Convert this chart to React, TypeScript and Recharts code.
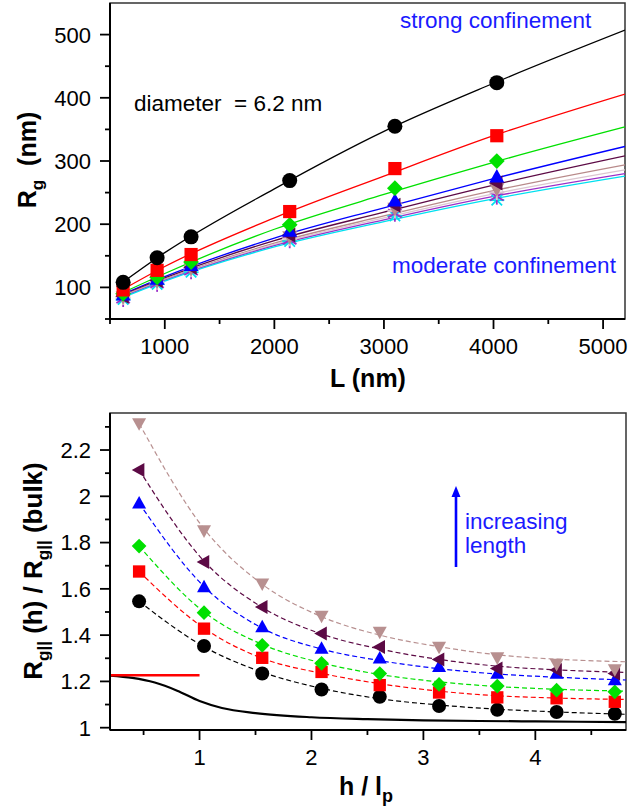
import React from 'react'
import { ComposedChart, Scatter, Line, XAxis, YAxis, ReferenceArea } from 'recharts'

// ---- top panel: Rg vs contour length L ----
const lengthNm = [620, 930, 1240, 2140, 3100, 4030]
const fitLengthNm = [560, 1000, 2000, 3000, 4000, 5200]

const rgBlack = [108, 147, 180, 269, 355, 424]
const rgRed = [96, 127, 152, 220, 288, 340]
const rgGreen = [90, 116, 140, 199, 257, 300]
const rgBlue = [88, 113, 135, 189, 237, 275]
const rgMaroon = [86, 111, 132, 183, 230, 265]
const rgRosy = [85, 110, 130, 180, 225, 256]
const rgLight = [84, 108, 128, 177, 221, 250]
const rgPurple = [82, 106, 126, 175, 217, 244]
const rgCyan = [81, 105, 124, 173, 213, 238]

const fitBlack = [101, 155, 256, 347, 423, 507]
const fitRed = [91, 133, 210, 276, 340, 406]
const fitGreen = [87, 122, 192, 247, 298, 354]
const fitBlue = [85, 117, 178, 226, 272, 323]
const fitMaroon = [84, 115, 174, 219, 262, 308]
const fitRosy = [83, 113, 170, 213, 253, 294]
const fitLight = [82, 112, 168, 210, 248, 286]
const fitPurple = [81, 111, 166, 207, 244, 280]
const fitCyan = [80, 110, 164, 204, 240, 276]

const lengthTicks = [500, 1000, 1500, 2000, 2500, 3000, 3500, 4000, 4500, 5000]
const rgTicks = [50, 100, 150, 200, 250, 300, 350, 400, 450, 500]

// ---- bottom panel: Rg|| ratio vs h / lp ----
const hOverLp = [0.46, 1.04, 1.56, 2.09, 2.61, 3.14, 3.66, 4.19, 4.71]
const ratioBlack = [1.546, 1.353, 1.234, 1.165, 1.134, 1.094, 1.077, 1.068, 1.06]
const ratioRed = [1.675, 1.428, 1.302, 1.241, 1.184, 1.152, 1.131, 1.127, 1.112]
const ratioGreen = [1.785, 1.497, 1.356, 1.278, 1.234, 1.187, 1.18, 1.162, 1.155]
const ratioBlue = [1.97, 1.608, 1.435, 1.342, 1.3, 1.263, 1.234, 1.234, 1.206]
const ratioMaroon = [2.114, 1.716, 1.522, 1.407, 1.349, 1.295, 1.256, 1.249, 1.234]
const ratioRosy = [2.315, 1.852, 1.622, 1.483, 1.414, 1.349, 1.303, 1.275, 1.252]

const hFit = [0.46, 1.04, 1.56, 2.09, 2.61, 3.14, 3.66, 4.19, 4.81]
const fitRatioBlack = [1.546, 1.35, 1.24, 1.17, 1.125, 1.098, 1.08, 1.068, 1.058]
const fitRatioRed = [1.675, 1.43, 1.3, 1.235, 1.19, 1.158, 1.138, 1.128, 1.122]
const fitRatioGreen = [1.785, 1.5, 1.36, 1.28, 1.23, 1.198, 1.178, 1.166, 1.158]
const fitRatioBlue = [1.97, 1.61, 1.43, 1.34, 1.29, 1.255, 1.232, 1.218, 1.206]
const fitRatioMaroon = [2.114, 1.72, 1.52, 1.405, 1.34, 1.295, 1.266, 1.25, 1.239]
const fitRatioRosy = [2.315, 1.86, 1.62, 1.48, 1.4, 1.35, 1.315, 1.296, 1.285]

const bulkH = [0.2, 0.4, 0.6, 0.8, 1.0, 1.2, 1.5, 2.0, 2.5, 3.0, 3.5, 4.0, 4.81]
const bulkRatio = [1.225, 1.215, 1.195, 1.16, 1.115, 1.085, 1.063, 1.045, 1.037, 1.032, 1.029, 1.027, 1.024]
const limitH = [0.2, 1.0]
const limitRatio = [1.227, 1.227]

const hTicks = [0.5, 1, 1.5, 2, 2.5, 3, 3.5, 4, 4.5]
const ratioTicks = [1, 1.1, 1.2, 1.3, 1.4, 1.5, 1.6, 1.7, 1.8, 1.9, 2, 2.1, 2.2, 2.3]

const FONT = '"Liberation Sans", Arial, sans-serif'
const BLUE_TEXT = '#1a1aff'

const toXY = (xs: number[], ys: number[]) => xs.map((x, i) => ({ x, y: ys[i] }))

type Kind = 'circle' | 'square' | 'diamond' | 'up' | 'left' | 'down' | 'plus' | 'star' | 'asterisk'

function Marker({ cx, cy, kind, color, s }: { cx: number; cy: number; kind: Kind; color: string; s: number }) {
  if (cx == null || cy == null) return null
  const h = s / 2
  switch (kind) {
    case 'circle':
      return <circle cx={cx} cy={cy} r={h} fill={color} />
    case 'square':
      return <rect x={cx - h * 0.88} y={cy - h * 0.88} width={h * 1.76} height={h * 1.76} fill={color} />
    case 'diamond':
      return <polygon points={`${cx},${cy - h * 1.05} ${cx + h * 1.05},${cy} ${cx},${cy + h * 1.05} ${cx - h * 1.05},${cy}`} fill={color} />
    case 'up':
      return <polygon points={`${cx},${cy - h * 1.05} ${cx + h},${cy + h * 0.75} ${cx - h},${cy + h * 0.75}`} fill={color} />
    case 'down':
      return <polygon points={`${cx},${cy + h * 1.05} ${cx + h},${cy - h * 0.75} ${cx - h},${cy - h * 0.75}`} fill={color} />
    case 'left':
      return <polygon points={`${cx - h * 1.05},${cy} ${cx + h * 0.75},${cy - h} ${cx + h * 0.75},${cy + h}`} fill={color} />
    case 'plus':
      return (
        <g stroke={color} strokeWidth={2}>
          <line x1={cx - h} x2={cx + h} y1={cy} y2={cy} />
          <line x1={cx} x2={cx} y1={cy - h} y2={cy + h} />
        </g>
      )
    case 'star':
      return (
        <g stroke={color} strokeWidth={1.8}>
          <line x1={cx} x2={cx} y1={cy - h * 1.1} y2={cy + h * 1.1} />
          <line x1={cx - h * 0.9} x2={cx + h * 0.9} y1={cy - h * 0.55} y2={cy + h * 0.55} />
          <line x1={cx - h * 0.9} x2={cx + h * 0.9} y1={cy + h * 0.55} y2={cy - h * 0.55} />
        </g>
      )
    default:
      return (
        <g stroke={color} strokeWidth={1.8}>
          <line x1={cx - h} x2={cx + h} y1={cy} y2={cy} />
          <line x1={cx - h * 0.7} x2={cx + h * 0.7} y1={cy - h * 0.7} y2={cy + h * 0.7} />
          <line x1={cx - h * 0.7} x2={cx + h * 0.7} y1={cy + h * 0.7} y2={cy - h * 0.7} />
        </g>
      )
  }
}

const topSeries: { color: string; kind: Kind; pts: number[]; fit: number[] }[] = [
  { color: '#000000', kind: 'circle', pts: rgBlack, fit: fitBlack },
  { color: '#ff0000', kind: 'square', pts: rgRed, fit: fitRed },
  { color: '#00e000', kind: 'diamond', pts: rgGreen, fit: fitGreen },
  { color: '#0000ff', kind: 'up', pts: rgBlue, fit: fitBlue },
  { color: '#5c0a45', kind: 'left', pts: rgMaroon, fit: fitMaroon },
  { color: '#b88a8a', kind: 'down', pts: rgRosy, fit: fitRosy },
  { color: '#dcc6d0', kind: 'plus', pts: rgLight, fit: fitLight },
  { color: '#9b30c8', kind: 'star', pts: rgPurple, fit: fitPurple },
  { color: '#00e0f0', kind: 'asterisk', pts: rgCyan, fit: fitCyan },
]

const bottomSeries: { color: string; kind: Kind; pts: number[]; fit: number[] }[] = [
  { color: '#000000', kind: 'circle', pts: ratioBlack, fit: fitRatioBlack },
  { color: '#ff0000', kind: 'square', pts: ratioRed, fit: fitRatioRed },
  { color: '#00e000', kind: 'diamond', pts: ratioGreen, fit: fitRatioGreen },
  { color: '#0000ff', kind: 'up', pts: ratioBlue, fit: fitRatioBlue },
  { color: '#5c0a45', kind: 'left', pts: ratioMaroon, fit: fitRatioMaroon },
  { color: '#b89090', kind: 'down', pts: ratioRosy, fit: fitRatioRosy },
]

// custom ticks: axis tickSize/tickMargin are 0 so x,y sit on the axis line
const makeYTick = (isMajor: (v: number) => boolean, fmt: (v: number) => string) => (p: any) => {
  const v = p.payload.value
  const major = isMajor(v)
  return (
    <g>
      <line x1={p.x} x2={p.x - (major ? 10 : 5)} y1={p.y} y2={p.y} stroke="#000" strokeWidth={1.8} />
      {major && (
        <text x={p.x - 19} y={p.y} dy="0.36em" textAnchor="end" fontSize={22} fontFamily={FONT} fill="#000">
          {fmt(v)}
        </text>
      )}
    </g>
  )
}

const makeXTick = (isMajor: (v: number) => boolean, fmt: (v: number) => string) => (p: any) => {
  const v = p.payload.value
  const major = isMajor(v)
  return (
    <g>
      <line x1={p.x} x2={p.x} y1={p.y} y2={p.y + (major ? 10 : 5)} stroke="#000" strokeWidth={1.8} />
      {major && (
        <text x={p.x} y={p.y + 19} dy="0.72em" textAnchor="middle" fontSize={22} fontFamily={FONT} fill="#000">
          {fmt(v)}
        </text>
      )}
    </g>
  )
}

const rgYTick = makeYTick((v) => v % 100 === 0, (v) => String(v))
const lengthXTick = makeXTick((v) => v % 1000 === 0, (v) => String(v))
const ratioYTick = makeYTick((v) => Math.round(v * 10) % 2 === 0, (v) => String(Math.round(v * 10) / 10))
const hXTick = makeXTick((v) => Number.isInteger(v), (v) => String(v))

function TopChart() {
  return (
    <ComposedChart width={631} height={400} margin={{ top: 3, right: 6, bottom: 51, left: 10 }}>
      <XAxis
        dataKey="x"
        type="number"
        domain={[500, 5200]}
        ticks={lengthTicks}
        interval={0}
        allowDataOverflow
        height={30}
        tickSize={0}
        tickMargin={0}
        tick={lengthXTick}
        axisLine={{ stroke: '#000', strokeWidth: 2 }}
        tickLine={false}
      />
      <YAxis
        dataKey="y"
        type="number"
        domain={[50, 550]}
        ticks={rgTicks}
        interval={0}
        allowDataOverflow
        width={100}
        tickSize={0}
        tickMargin={0}
        tick={rgYTick}
        axisLine={{ stroke: '#000', strokeWidth: 2 }}
        tickLine={false}
      />
      <ReferenceArea x1={500} x2={5200} y1={50} y2={550} fill="none" stroke="#333" strokeWidth={1.5} ifOverflow="visible" />
      {topSeries.map((s, i) => (
        <Line
          key={`fit${i}`}
          data={toXY(fitLengthNm, s.fit)}
          dataKey="y"
          type="monotone"
          stroke={s.color}
          strokeWidth={1.3}
          dot={false}
          activeDot={false}
          isAnimationActive={false}
        />
      ))}
      {topSeries
        .slice()
        .reverse()
        .map((s, i) => (
          <Scatter
            key={`pts${i}`}
            data={toXY(lengthNm, s.pts)}
            dataKey="y"
            isAnimationActive={false}
            shape={(p: any) => <Marker cx={p.cx} cy={p.cy} kind={s.kind} color={s.color} s={15} />}
          />
        ))}
    </ComposedChart>
  )
}

function BottomChart() {
  return (
    <ComposedChart width={631} height={410} margin={{ top: 13, right: 5, bottom: 50, left: 10 }}>
      <XAxis
        dataKey="x"
        type="number"
        domain={[0.2, 4.81]}
        ticks={hTicks}
        interval={0}
        allowDataOverflow
        height={30}
        tickSize={0}
        tickMargin={0}
        tick={hXTick}
        axisLine={{ stroke: '#000', strokeWidth: 2 }}
        tickLine={false}
      />
      <YAxis
        dataKey="y"
        type="number"
        domain={[0.99, 2.36]}
        ticks={ratioTicks}
        interval={0}
        allowDataOverflow
        width={100}
        tickSize={0}
        tickMargin={0}
        tick={ratioYTick}
        axisLine={{ stroke: '#000', strokeWidth: 2 }}
        tickLine={false}
      />
      <ReferenceArea x1={0.2} x2={4.81} y1={0.99} y2={2.36} fill="none" stroke="#333" strokeWidth={1.5} ifOverflow="visible" />
      <Line
        data={toXY(bulkH, bulkRatio)}
        dataKey="y"
        type="monotone"
        stroke="#000"
        strokeWidth={2.2}
        dot={false}
        activeDot={false}
        isAnimationActive={false}
      />
      <Line
        data={toXY(limitH, limitRatio)}
        dataKey="y"
        type="linear"
        stroke="#ff0000"
        strokeWidth={2.5}
        dot={false}
        activeDot={false}
        isAnimationActive={false}
      />
      {bottomSeries.map((s, i) => (
        <Line
          key={`fit${i}`}
          data={toXY(hFit, s.fit)}
          dataKey="y"
          type="monotone"
          stroke={s.color}
          strokeWidth={1.2}
          strokeDasharray="5 3"
          dot={false}
          activeDot={false}
          isAnimationActive={false}
        />
      ))}
      {bottomSeries.map((s, i) => (
        <Scatter
          key={`pts${i}`}
          data={toXY(hOverLp, s.pts)}
          dataKey="y"
          isAnimationActive={false}
          shape={(p: any) => <Marker cx={p.cx} cy={p.cy} kind={s.kind} color={s.color} s={14} />}
        />
      ))}
    </ComposedChart>
  )
}

function Labels() {
  const t = { fontFamily: FONT, fontSize: 22.5 }
  const b = { fontFamily: FONT, fontSize: 25, fontWeight: 700 }
  return (
    <svg width={631} height={810} style={{ position: 'absolute', left: 0, top: 0, pointerEvents: 'none' }}>
      <text x={400} y={28} fill={BLUE_TEXT} style={t}>strong confinement</text>
      <text x={134} y={111} fill="#000" style={{ ...t, whiteSpace: 'pre' }}>{'diameter  = 6.2 nm'}</text>
      <text x={392} y={273} fill={BLUE_TEXT} style={t}>moderate confinement</text>
      <text x={368} y={387} textAnchor="middle" fill="#000" style={b}>L (nm)</text>
      <text transform="translate(36,160) rotate(-90)" textAnchor="middle" fill="#000" style={{ ...b, whiteSpace: 'pre' }}>
        R<tspan fontSize={17} dy={7}>g</tspan>
        <tspan dy={-7}>{'  (nm)'}</tspan>
      </text>

      <line x1={456} x2={456} y1={567} y2={494} stroke="#0000ff" strokeWidth={2.6} />
      <polygon points="456,486 451.5,497 460.5,497" fill="#0000ff" />
      <text x={465} y={529} fill={BLUE_TEXT} style={t}>increasing</text>
      <text x={465} y={553} fill={BLUE_TEXT} style={t}>length</text>

      <text x={339} y={795} fill="#000" style={{ ...b, whiteSpace: 'pre' }}>
        {'h / l'}
        <tspan fontSize={18} dy={7}>p</tspan>
      </text>
      <text transform="translate(42,571) rotate(-90)" textAnchor="middle" fill="#000" style={{ ...b, fontSize: 26, whiteSpace: 'pre' }}>
        R<tspan fontSize={17} dy={7}>{'g||'}</tspan>
        <tspan dy={-7}>{' (h) / R'}</tspan>
        <tspan fontSize={17} dy={7}>{'g||'}</tspan>
        <tspan dy={-7}>{' (bulk)'}</tspan>
      </text>
    </svg>
  )
}

export default function App() {
  return (
    <div style={{ position: 'absolute', left: 0, top: 0, width: 631, height: 810, background: '#fff', fontFamily: FONT }}>
      <div style={{ position: 'absolute', left: 0, top: 0 }}>
        <TopChart />
      </div>
      <div style={{ position: 'absolute', left: 0, top: 400 }}>
        <BottomChart />
      </div>
      <Labels />
    </div>
  )
}
